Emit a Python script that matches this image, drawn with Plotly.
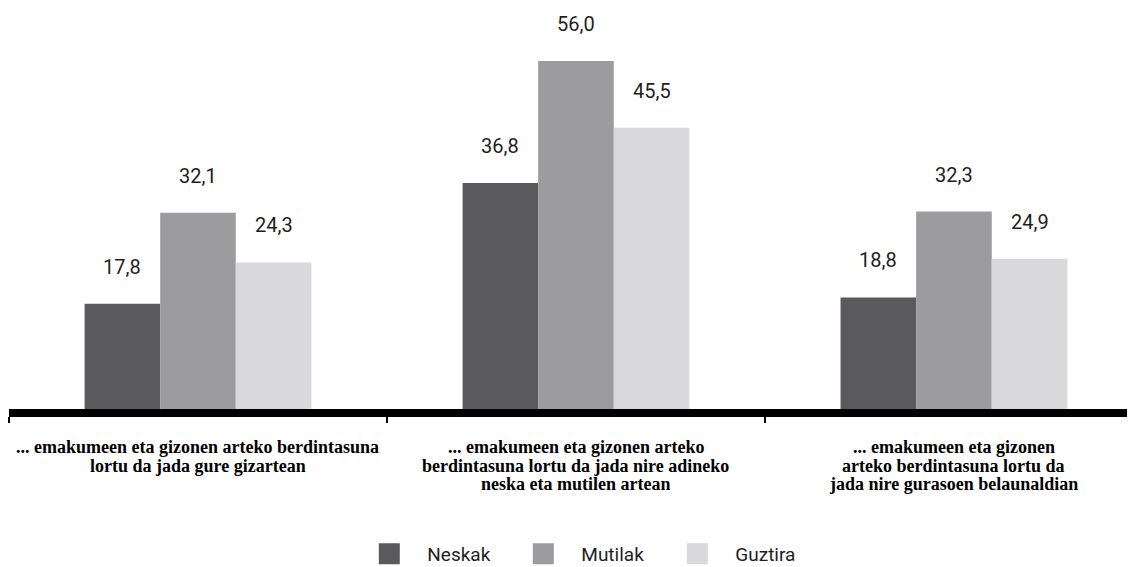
import plotly.graph_objects as go

categories = [
    "... emakumeen eta gizonen arteko berdintasuna<br>lortu da jada gure gizartean",
    "... emakumeen eta gizonen arteko<br>berdintasuna lortu da jada nire adineko<br>neska eta mutilen artean",
    "... emakumeen eta gizonen<br>arteko berdintasuna lortu da<br>jada nire gurasoen belaunaldian",
]
series_names = ["Neskak", "Mutilak", "Guztira"]
neskak = [17.8, 36.8, 18.8]
mutilak = [32.1, 56.0, 32.3]
guztira = [24.3, 45.5, 24.9]
colors = ["#5a5a5c", "#9c9c9e", "#d9d9db"]

series_values = [neskak, mutilak, guztira]

SANS = "Roboto"

fig = go.Figure()
for name, vals, col in zip(series_names, series_values, colors):
    fig.add_trace(go.Bar(x=categories, y=vals, name=name, marker_color=col,
                         marker_line_width=0, showlegend=False))
    fig.add_trace(go.Scatter(x=[None], y=[None], mode="markers", name=name,
                             marker=dict(symbol="square", size=16, color=col,
                                         line=dict(color=col, width=5)),
                             showlegend=True))

annotations = []
bar_w = 0.2
for j, vals in enumerate(series_values):
    for i, v in enumerate(vals):
        annotations.append(dict(
            x=i + (j - 1) * bar_w, y=v, xref="x", yref="y",
            text=f"{v:.1f}".replace(".", ","), showarrow=False,
            yshift=37, font=dict(family=SANS, size=20, color="#1e1e1e"),
        ))

# category labels, one annotation per text line
for i, cat in enumerate(categories):
    for k, line in enumerate(cat.split("<br>")):
        annotations.append(dict(
            x=i, y=0, xref="x", yref="paper", text=line, showarrow=False,
            yanchor="middle", yshift=-(38 + 18.5 * k),
            font=dict(family="Liberation Serif", size=18, color="black", weight="bold"),
        ))

fig.update_layout(
    width=1127, height=559,
    margin=dict(l=1, r=0, t=2, b=158, autoexpand=False),
    paper_bgcolor="white", plot_bgcolor="white",
    barmode="group", bargap=0.4, bargroupgap=0,
    annotations=annotations,
    showlegend=True,
    legend=dict(orientation="h", x=0.304, xanchor="left", y=-0.363, yanchor="middle",
                entrywidth=73, itemwidth=66, itemsizing="trace",
                font=dict(family=SANS, size=19, color="#1e1e1e")),
    xaxis=dict(range=[-0.5, 2.479], showline=True, linecolor="black", linewidth=8,
               ticks="outside", tickson="boundaries", ticklen=6, tickwidth=1.5,
               tickcolor="black", showgrid=False, showticklabels=False,
               automargin=False),
    yaxis=dict(range=[1.26, 64.0], visible=False, showgrid=False, zeroline=False,
               automargin=False),
)

fig.write_html("out.html")
